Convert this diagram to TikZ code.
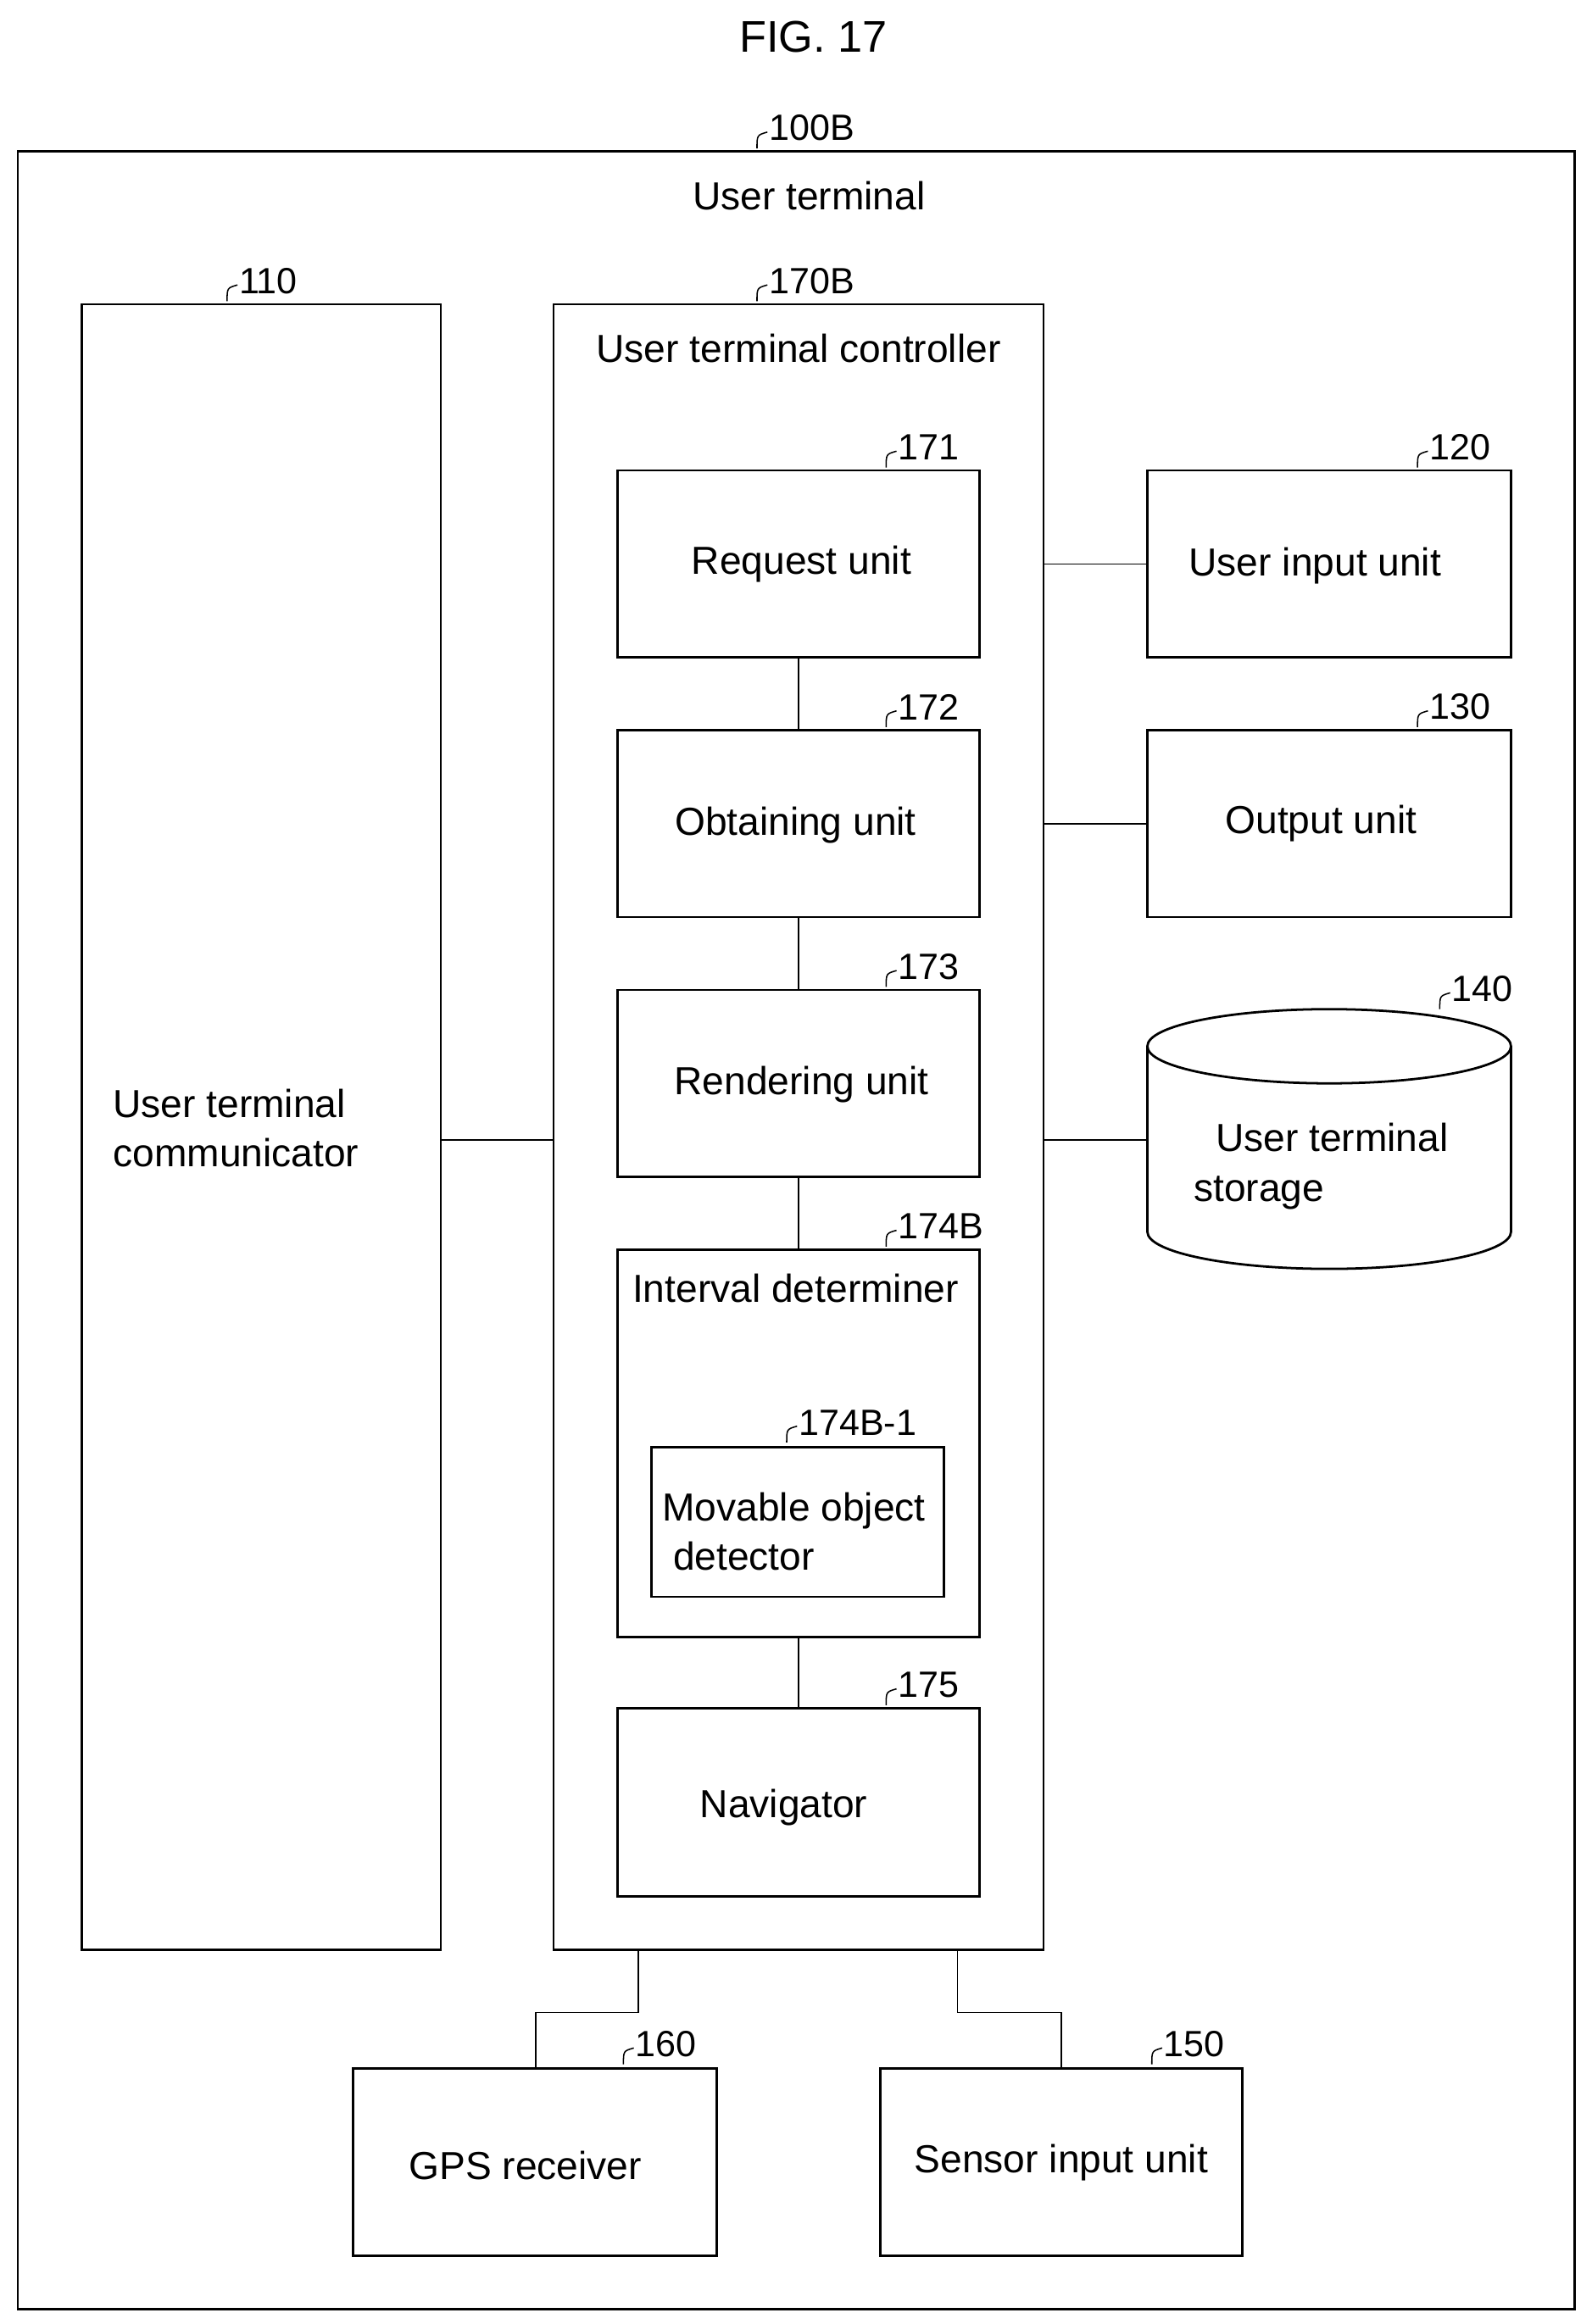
\documentclass[tikz,border=0pt]{standalone}
\usepackage{fontspec}
\setmainfont{Liberation Sans}
\usetikzlibrary{positioning,calc}
\begin{document}
\begin{tikzpicture}[
    x=0.02cm, y=-0.02cm,
    blk/.style={draw, line width=0.9pt, inner sep=0pt},
    txt/.style={font=\fontsize{15}{19}\selectfont, align=left},
    ref/.style={font=\fontsize{14}{16}\selectfont, anchor=south west, inner sep=1pt},
    link/.style={line width=0.5pt}
]
\useasboundingbox (0,0) rectangle (1072,1566);

% Title
\node[font=\fontsize{17}{20}\selectfont] (fig) at (548,25) {FIG. 17};

% Frames
\draw[blk] (12,102) rectangle (1061,1556);
\node[txt] (term) at (545,132) {User terminal};
\draw[blk] (55,205) rectangle (297,1314);
\node[txt, anchor=west] (comm) at (70,760) {User terminal\\communicator};
\draw[blk] (373,205) rectangle (703,1314);
\node[txt] (ctrl) at (538,235) {User terminal controller};

% Unit boxes
\draw[blk] (416,317) rectangle (660,443);
\node[txt] (req) at (540,380) {Request unit};
\draw[blk] (416,492) rectangle (660,618);
\node[txt] (obt) at (536,556) {Obtaining unit};
\draw[blk] (416,667) rectangle (660,793);
\node[txt] (rend) at (540,731) {Rendering unit};
\draw[blk] (416,842) rectangle (660,1103);
\node[txt] (intv) at (536,868) {Interval determiner};
\draw[blk] (439,975) rectangle (636,1076);
\node[txt, anchor=west] (mov) at (440,1032) {Movable object\\ \ detector};
\draw[blk] (416,1151) rectangle (660,1278);
\node[txt] (nav) at (528,1218) {Navigator};

\draw[blk] (773,317) rectangle (1018,443);
\node[txt] (inp) at (886,381) {User input unit};
\draw[blk] (773,492) rectangle (1018,618);
\node[txt] (out) at (890,555) {Output unit};

% Storage cylinder
\draw[blk] (773,705) -- (773,830) arc[start angle=180, end angle=360, x radius=122.5, y radius=-25] -- (1018,705);
\draw[blk] (895.5,705) ellipse[x radius=122.5, y radius=25];
\node[txt] (stor) at (890,786) {\ \ User terminal\\storage};

\draw[blk] (238,1394) rectangle (483,1520);
\node[txt] (gps) at (354,1459) {GPS receiver};
\draw[blk] (593,1394) rectangle (837,1520);
\node[txt] (sens) at (715,1457) {Sensor input unit};

% Connectors
\draw[link] (703,380) -- (773,380);
\draw[link] (703,555) -- (773,555);
\draw[link] (703,768) -- (773,768);
\draw[link] (297,768) -- (373,768);
\foreach \a/\b in {443/492, 618/667, 793/842, 1103/1151}
    \draw[link] (538,\a) -- (538,\b);
\draw[link] (430,1314) -- (430,1356) -- (361,1356) -- (361,1394);
\draw[link] (645,1314) -- (645,1356) -- (715,1356) -- (715,1394);

% Reference numerals
\foreach \x/\y/\t in {510/100/100B, 153/203/110, 510/203/170B, 597/315/171, 597/490/172,
    597/665/173, 597/840/174B, 530/972/174B-1, 597/1149/175, 955/315/120, 955/490/130,
    970/680/140, 420/1391/160, 776/1391/150} {
    \draw[link] (\x,\y) .. controls (\x,\y-9) .. (\x+7,\y-11);
    \node[ref] at (\x+6,\y-3) {\t};
}
\end{tikzpicture}
\end{document}
